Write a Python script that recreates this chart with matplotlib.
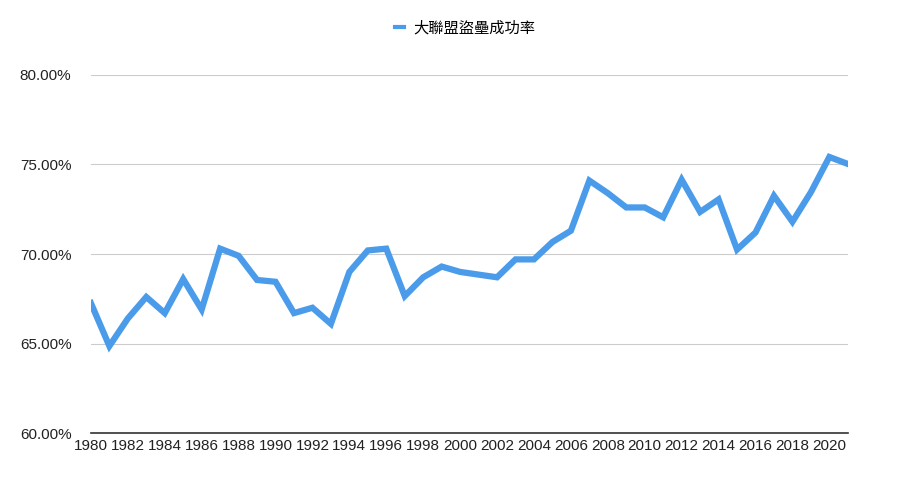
import matplotlib
matplotlib.use("Agg")
import matplotlib.pyplot as plt
from matplotlib.ticker import FuncFormatter

plt.rcParams['font.family'] = ['Liberation Sans', 'Noto Sans CJK TC', 'DejaVu Sans']

#==============================
# Data
#==============================
years = list(range(1980, 2022))
rates = [67.26, 64.86, 66.4, 67.6, 66.7, 68.6, 66.9, 70.3, 69.9, 68.55,
         68.45, 66.7, 67.0, 66.1, 69.0, 70.2, 70.3, 67.65, 68.7, 69.3,
         69.0, 68.85, 68.7, 69.7, 69.7, 70.67, 71.3, 74.1, 73.4, 72.6,
         72.6, 72.05, 74.15, 72.35, 73.05, 70.25, 71.2, 73.25, 71.8, 73.45,
         75.42, 75.03]
label = '大聯盟盜壘成功率'
xticks = list(range(1980, 2021, 2))
yticks = [60, 65, 70, 75, 80]

#==============================
# Plot
#==============================
fig = plt.figure(figsize=(9, 5.03), dpi=100)
ax = fig.add_axes([0.101, 0.139, 0.841, 0.712])

ax.plot(years, rates, color='#4a9bea', linewidth=4.5, solid_joinstyle='miter',
        label=label, zorder=3)

ax.set_xlim(1980, 2021)
ax.set_ylim(60, 80)
ax.set_xticks(xticks)
ax.set_yticks(yticks)
ax.yaxis.set_major_formatter(FuncFormatter(lambda v, p: f'{v:.2f}%'))

ax.grid(axis='y', color='#cccccc', linewidth=0.8)
ax.set_axisbelow(True)
for s in ['top', 'right', 'left']:
    ax.spines[s].set_visible(False)
ax.spines['bottom'].set_color('#333333')
ax.spines['bottom'].set_linewidth(1.2)
ax.tick_params(axis='both', length=0, labelsize=11, colors='#222222')
ax.tick_params(axis='x', pad=4)
ax.tick_params(axis='y', pad=14)

leg = fig.legend(loc='upper center', bbox_to_anchor=(0.517, 0.985), frameon=False,
                 handlelength=0.6, handletextpad=0.6, fontsize=11)
for line in leg.get_lines():
    line.set_linewidth(3)

fig.savefig('out.png', dpi=100)
